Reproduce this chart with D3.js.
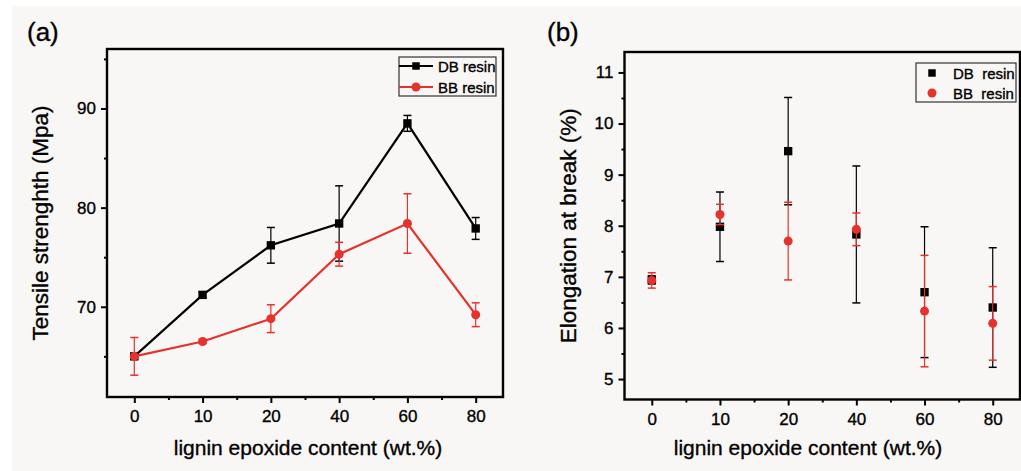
<!DOCTYPE html>
<html>
<head>
<meta charset="utf-8">
<script src="https://cdn.jsdelivr.net/npm/d3@7"></script>
<style>
  body { margin: 0; background: #fff; }
  svg { display: block; font-family: 'Liberation Sans', Arial, sans-serif; }
</style>
</head>
<body>
<div id="draw"></div>
<script>
var categories = ['0', '10', '20', '40', '60', '80'];

// (a) tensile strength, MPa
var dbTensile = [65.0, 71.2, 76.2, 78.4, 88.5, 77.9];
var dbTensileErr = [0.3, 0.3, 1.8, 3.8, 0.8, 1.1];
var bbTensile = [65.0, 66.5, 68.8, 75.3, 78.4, 69.2];
var bbTensileErr = [1.9, 0.2, 1.4, 1.2, 3.0, 1.2];

// (b) elongation at break, %
var dbElong = [6.94, 7.98, 9.46, 7.83, 6.70, 6.40];
var dbElongErr = [0.08, 0.68, 1.05, 1.34, 1.28, 1.17];
var bbElong = [6.93, 8.22, 7.70, 7.93, 6.33, 6.09];
var bbElongErr = [0.15, 0.2, 0.76, 0.32, 1.09, 0.72];

var tensileTicks = [70, 80, 90];
var tensileMinor = [65, 75, 85, 95];
var elongTicks = [5, 6, 7, 8, 9, 10, 11];
var elongMinor = [5.5, 6.5, 7.5, 8.5, 9.5, 10.5];

var black = '#000000', red = '#e5322d';

var svg = d3.select('#draw').append('svg').attr('width', 1021).attr('height', 471);

svg.append('rect').attr('x', 12).attr('y', 6).attr('width', 1009).attr('height', 465).attr('fill', '#f9f7f5');

function heavy(sel) {
  sel.attr('fill', '#000').attr('stroke', '#000').attr('stroke-width', 0.35);
}

function panel(opt) {
  var g = svg.append('g');
  var x = d3.scaleLinear().domain([-0.4, categories.length - 0.6]).range([opt.left, opt.right]);
  var y = d3.scaleLinear().domain(opt.domain).range([opt.bottom, opt.top]);

  // minor ticks
  g.append('g').attr('transform', 'translate(' + opt.left + ',0)')
    .call(d3.axisLeft(y).tickValues(opt.minor).tickSize(3).tickFormat(''))
    .call(function (a) { a.select('.domain').remove(); a.selectAll('line').attr('stroke-width', 2); });
  g.append('g').attr('transform', 'translate(0,' + opt.bottom + ')')
    .call(d3.axisBottom(x).tickValues([0.5, 1.5, 2.5, 3.5, 4.5]).tickSize(3).tickFormat(''))
    .call(function (a) { a.select('.domain').remove(); a.selectAll('line').attr('stroke-width', 2); });

  // major ticks
  g.append('g').attr('transform', 'translate(' + opt.left + ',0)')
    .call(d3.axisLeft(y).tickValues(opt.ticks).tickSize(6).tickPadding(5).tickFormat(d3.format('d')))
    .call(function (a) {
      a.select('.domain').remove();
      a.selectAll('line').attr('stroke-width', 2);
      a.selectAll('text').attr('font-size', 17).attr('font-family', 'Liberation Sans, Arial').call(heavy);
    });
  g.append('g').attr('transform', 'translate(0,' + opt.bottom + ')')
    .call(d3.axisBottom(x).tickValues(d3.range(categories.length)).tickSize(6).tickPadding(7)
      .tickFormat(function (i) { return categories[i]; }))
    .call(function (a) {
      a.select('.domain').remove();
      a.selectAll('line').attr('stroke-width', 2);
      a.selectAll('text').attr('font-size', 17).attr('font-family', 'Liberation Sans, Arial').call(heavy);
    });

  // frame
  g.append('rect').attr('x', opt.left).attr('y', opt.top)
    .attr('width', opt.right - opt.left).attr('height', opt.bottom - opt.top)
    .attr('fill', 'none').attr('stroke', '#000').attr('stroke-width', 2.4);

  // axis titles
  g.append('text').attr('transform', 'translate(' + opt.ytx + ',' + (opt.top + opt.bottom) / 2 + ') rotate(-90)')
    .attr('text-anchor', 'middle').attr('font-size', 22.5).text(opt.ytitle).call(heavy);
  g.append('text').attr('x', opt.xtx).attr('y', 455)
    .attr('text-anchor', 'middle').attr('font-size', 21).text('lignin epoxide content (wt.%)').call(heavy);
  g.append('text').attr('x', opt.labelX).attr('y', 41).attr('font-size', 26).text(opt.label).call(heavy);

  opt.series.forEach(function (s) {
    var sg = g.append('g');
    var pts = s.values.map(function (v, i) { return { i: i, v: v, e: s.err[i] }; });
    if (opt.lines) {
      sg.append('path').datum(pts)
        .attr('d', d3.line().x(function (d) { return x(d.i); }).y(function (d) { return y(d.v); }))
        .attr('fill', 'none').attr('stroke', s.color).attr('stroke-width', 2.2);
    }
    var eb = sg.selectAll('.eb').data(pts).enter().append('g').attr('stroke', s.color).attr('stroke-width', 1.2);
    eb.append('line').attr('x1', function (d) { return x(d.i); }).attr('x2', function (d) { return x(d.i); })
      .attr('y1', function (d) { return y(d.v - d.e); }).attr('y2', function (d) { return y(d.v + d.e); });
    [-1, 1].forEach(function (sgn) {
      eb.append('line').attr('x1', function (d) { return x(d.i) - 4; }).attr('x2', function (d) { return x(d.i) + 4; })
        .attr('y1', function (d) { return y(d.v + sgn * d.e); }).attr('y2', function (d) { return y(d.v + sgn * d.e); })
        .attr('stroke-width', 1.5);
    });
    sg.selectAll('.mk').data(pts).enter().append('path')
      .attr('transform', function (d) { return 'translate(' + x(d.i) + ',' + y(d.v) + ')'; })
      .attr('d', d3.symbol().type(s.shape).size(s.shape === d3.symbolSquare ? 70 : 64))
      .attr('fill', s.color);
  });

  // legend
  var lg = g.append('g');
  lg.append('rect').attr('x', opt.leg.x).attr('y', opt.leg.y).attr('width', opt.leg.w).attr('height', opt.leg.h)
    .attr('fill', 'none').attr('stroke', '#333').attr('stroke-width', 1.2);
  opt.series.forEach(function (s, k) {
    var cy = opt.leg.y + opt.leg.first + k * opt.leg.step;
    if (opt.lines) {
      lg.append('line').attr('x1', opt.leg.x).attr('x2', opt.leg.x + 34).attr('y1', cy).attr('y2', cy)
        .attr('stroke', s.color).attr('stroke-width', 2);
    }
    lg.append('path').attr('transform', 'translate(' + (opt.leg.x + opt.leg.sym) + ',' + cy + ')')
      .attr('d', d3.symbol().type(s.shape).size(s.shape === d3.symbolSquare ? 56 : 64)).attr('fill', s.color);
    lg.append('text').attr('x', opt.leg.x + opt.leg.tx).attr('y', cy + 5.5).attr('font-size', 15)
      .attr('xml:space', 'preserve').text(s.name).call(heavy);
  });
}

panel({
  left: 107, right: 503, top: 49, bottom: 397,
  domain: [60.9, 96], ticks: tensileTicks, minor: tensileMinor,
  ytitle: 'Tensile strenghth (Mpa)', ytx: 48, xtx: 308, label: '(a)', labelX: 27,
  lines: true,
  leg: { x: 399, y: 57, w: 97, h: 39, first: 9, step: 21, sym: 17, tx: 39 },
  series: [
    { name: 'DB resin', values: dbTensile, err: dbTensileErr, color: black, shape: d3.symbolSquare },
    { name: 'BB resin', values: bbTensile, err: bbTensileErr, color: red, shape: d3.symbolCircle }
  ]
});

panel({
  left: 624.5, right: 1020, top: 52, bottom: 399.5,
  domain: [4.6, 11.4], ticks: elongTicks, minor: elongMinor,
  ytitle: 'Elongation at break (%)', ytx: 576, xtx: 808, label: '(b)', labelX: 547,
  lines: false,
  leg: { x: 916, y: 63, w: 100, h: 39, first: 10, step: 20, sym: 16, tx: 37 },
  series: [
    { name: 'DB  resin', values: dbElong, err: dbElongErr, color: black, shape: d3.symbolSquare },
    { name: 'BB  resin', values: bbElong, err: bbElongErr, color: red, shape: d3.symbolCircle }
  ]
});
</script>
</body>
</html>
